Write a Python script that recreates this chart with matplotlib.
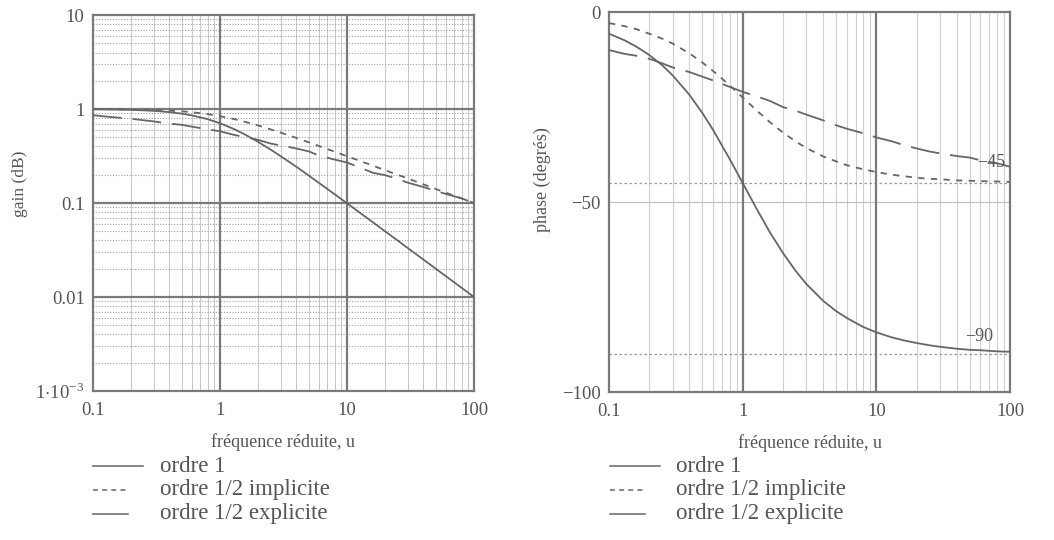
import numpy as np
import matplotlib
matplotlib.use("Agg")
import matplotlib.pyplot as plt
from matplotlib.lines import Line2D
from matplotlib.ticker import FixedLocator, FixedFormatter, NullFormatter

plt.rcParams['font.family'] = ['Liberation Serif', 'DejaVu Serif']
plt.rcParams['mathtext.fontset'] = 'stix'

# reduced frequency samples
u = [0.1, 0.13, 0.16, 0.2, 0.25, 0.3, 0.4, 0.5, 0.6, 0.8, 1, 1.3, 1.6, 2, 2.5, 3,
     4, 5, 6, 8, 10, 13, 16, 20, 25, 30, 40, 50, 60, 80, 100]

gain_o1 = [0.995, 0.992, 0.987, 0.981, 0.970, 0.958, 0.928, 0.894, 0.857, 0.781,
           0.707, 0.610, 0.530, 0.447, 0.371, 0.316, 0.243, 0.196, 0.164, 0.124,
           0.0995, 0.0767, 0.0624, 0.0499, 0.0400, 0.0333, 0.0250, 0.0200,
           0.0167, 0.0125, 0.0100]
gain_impl = [0.998, 0.996, 0.994, 0.990, 0.985, 0.979, 0.963, 0.946, 0.926, 0.884,
             0.841, 0.781, 0.728, 0.669, 0.609, 0.562, 0.493, 0.443, 0.405, 0.352,
             0.315, 0.277, 0.250, 0.223, 0.200, 0.183, 0.158, 0.141, 0.129, 0.112,
             0.100]
gain_expl = [0.86, 0.83, 0.81, 0.79, 0.76, 0.74, 0.70, 0.68, 0.65, 0.61,
             0.58, 0.53, 0.50, 0.47, 0.43, 0.41, 0.38, 0.355, 0.32, 0.29,
             0.27, 0.235, 0.21, 0.198, 0.18, 0.165, 0.148, 0.135, 0.125, 0.112,
             0.10]

phase_o1 = [-5.7, -7.4, -9.1, -11.3, -14.0, -16.7, -21.8, -26.6, -31.0, -38.7,
            -45.0, -52.4, -58.0, -63.4, -68.2, -71.6, -76.0, -78.7, -80.5, -82.9,
            -84.3, -85.6, -86.4, -87.1, -87.7, -88.1, -88.6, -88.9, -89.0, -89.3,
            -89.4]
phase_impl = [-2.9, -3.7, -4.5, -5.7, -7.0, -8.3, -10.9, -13.3, -15.5, -19.3,
              -22.5, -26.2, -29.0, -31.7, -34.1, -35.8, -38.0, -39.3, -40.3, -41.4,
              -42.1, -42.8, -43.2, -43.6, -43.9, -44.0, -44.3, -44.4, -44.5, -44.6,
              -44.7]
phase_expl = [-10.0, -11.0, -11.5, -12.3, -13.5, -14.6, -15.8, -17.0, -18.0, -19.7,
              -21.0, -22.3, -23.4, -25.0, -26.0, -27.0, -28.5, -29.8, -30.7, -31.9,
              -33.0, -34.0, -35.0, -35.9, -36.7, -37.2, -37.9, -38.3, -39.0, -39.8,
              -40.7]

xticks = [0.1, 1, 10, 100]
xticklabels = ["0.1", "1", "10", "100"]
gain_ticks = [1e-3, 0.01, 0.1, 1, 10]
gain_ticklabels = [r"1$\cdot$10$^{\mathregular{-3}}$", "0.01", "0.1", "1", "10"]
phase_ticks = [-100, -50, 0]
phase_ticklabels = ["\u2212100", "\u221250", "0"]
legend_labels = ["ordre 1", "ordre 1/2 implicite", "ordre 1/2 explicite"]

LINE = '#666666'
TXT = '#555555'
FRAME = '#7a7a7a'
styles = ['-', (0, (3.5, 3.5)), (0, (16, 6))]

fig = plt.figure(figsize=(10.54, 5.4), dpi=100)
ax1 = fig.add_axes([0.0882, 0.276, 0.3615, 0.696])
ax2 = fig.add_axes([0.5778, 0.274, 0.3805, 0.7037])

# ---- gain plot
ax1.set_xscale('log')
ax1.set_yscale('log')
ax1.set_xlim(0.1, 100)
ax1.set_ylim(1e-3, 10)
minx = [m * d for d in [0.1, 1, 10] for m in range(2, 10)]
miny = [m * d for d in [1e-3, 0.01, 0.1, 1] for m in range(2, 10)]
for x in minx:
    ax1.axvline(x, color='#c8c8c8', lw=0.7, zorder=1)
for y in miny:
    ax1.axhline(y, color='#a0a0a0', lw=0.8, ls=(0, (1, 1.5)), zorder=1)
for x in [1, 10]:
    ax1.axvline(x, color=FRAME, lw=1.6, zorder=2)
for y in [0.01, 0.1, 1]:
    ax1.axhline(y, color=FRAME, lw=1.6, zorder=2)
for g, ls in zip([gain_o1, gain_impl, gain_expl], styles):
    ax1.plot(u, g, color=LINE, lw=1.3, ls=ls, zorder=3)
ax1.yaxis.set_major_locator(FixedLocator(gain_ticks))
ax1.yaxis.set_major_formatter(FixedFormatter(gain_ticklabels))
ax1.set_ylabel("gain (dB)", color=TXT, fontsize=12.5)
ax1.yaxis.set_label_coords(-0.17, 0.55)

# ---- phase plot
ax2.set_xscale('log')
ax2.set_xlim(0.1, 100)
ax2.set_ylim(-100, 0)
for x in minx:
    ax2.axvline(x, color='#cfcfcf', lw=0.8, zorder=1)
for x in [1, 10]:
    ax2.axvline(x, color=FRAME, lw=1.6, zorder=2)
ax2.axhline(-50, color='#bdbdbd', lw=0.8, zorder=1)
ax2.axhline(-45, color='#999999', lw=0.9, ls=(0, (2, 2)), zorder=1)
ax2.axhline(-90, color='#999999', lw=0.9, ls=(0, (2, 2)), zorder=1)
for p, ls in zip([phase_o1, phase_impl, phase_expl], styles):
    ax2.plot(u, p, color=LINE, lw=1.3, ls=ls, zorder=3)
ax2.text(92, -39.5, "\u221245", color=TXT, fontsize=13, ha='right', va='center')
ax2.text(75, -85.5, "\u221290", color=TXT, fontsize=13, ha='right', va='center')
ax2.yaxis.set_major_locator(FixedLocator(phase_ticks))
ax2.yaxis.set_major_formatter(FixedFormatter(phase_ticklabels))
ax2.set_ylabel("phase (degrés)", color=TXT, fontsize=13)
ax2.yaxis.set_label_coords(-0.145, 0.56)

for ax in (ax1, ax2):
    ax.xaxis.set_major_locator(FixedLocator(xticks))
    ax.xaxis.set_major_formatter(FixedFormatter(xticklabels))
    ax.xaxis.set_minor_formatter(NullFormatter())
    ax.yaxis.set_minor_formatter(NullFormatter())
    ax.tick_params(which='both', length=0, labelsize=13.5, labelcolor=TXT)
    ax.tick_params(axis='x', pad=8)
    ax.tick_params(axis='y', pad=6)
    ax.set_xlabel("fréquence réduite, u", color=TXT, fontsize=13, labelpad=10)
    for s in ax.spines.values():
        s.set_color(FRAME)
        s.set_linewidth(1.6)

# ---- legends below each plot
handle_len = [50, 35, 35]
leg_styles = ['-', (0, (3.2, 2.8)), '-']
for x0, xt in [(93, 160), (610, 676)]:
    for i, lab in enumerate(legend_labels):
        y = 540 - (466 + 24 * i)
        fig.add_artist(Line2D([x0 / 1054, (x0 + handle_len[i]) / 1054],
                              [y / 540, y / 540], color=LINE, lw=1.1,
                              ls=leg_styles[i]))
        fig.text(xt / 1054, y / 540, lab, color=TXT, fontsize=16.5, va='center')

fig.savefig("out.png", dpi=100)
